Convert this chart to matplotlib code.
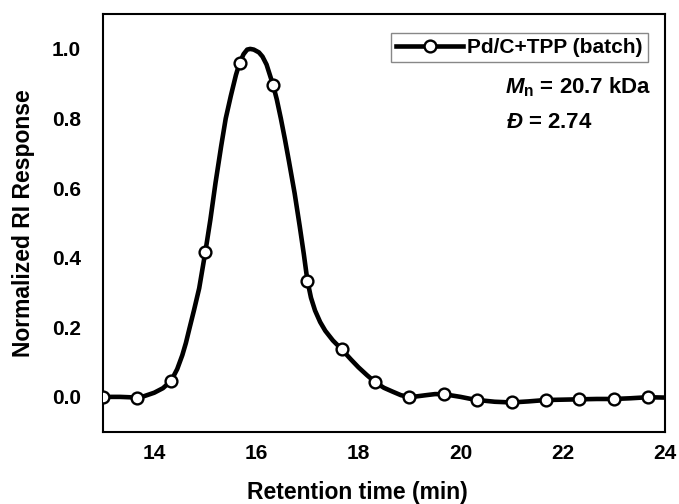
import matplotlib
matplotlib.use("Agg")
import matplotlib.pyplot as plt

# ===== 設定 =====
FIG_SIZE = (6.79, 5.04)
TICK_SIZE = 15
LABEL_SIZE = 16.5

plt.rcParams['font.family'] = ['Liberation Sans', 'DejaVu Sans']
plt.rcParams['font.weight'] = 'bold'
plt.rcParams['mathtext.fontset'] = 'custom'
plt.rcParams['mathtext.it'] = 'Liberation Sans:italic:bold'
plt.rcParams['mathtext.rm'] = 'Liberation Sans:bold'
plt.rcParams['mathtext.bf'] = 'Liberation Sans:bold'

# ===== データ (読み取り値) =====
# 測定点 (マーカー)
time_pts = [13.0, 13.67, 14.33, 15.0, 15.67, 16.33, 17.0, 17.67, 18.33,
            19.0, 19.67, 20.33, 21.0, 21.67, 22.33, 23.0, 23.67]
resp_pts = [0.0, -0.002, 0.046, 0.416, 0.959, 0.895, 0.334, 0.137, 0.042,
            -0.001, 0.008, -0.009, -0.016, -0.009, -0.007, -0.006, -0.001]

# 曲線 (トレース)
time_trace = [13.0, 13.33, 13.67, 13.8, 14.0, 14.17, 14.33, 14.45, 14.55, 14.62,
              14.69, 14.78, 14.88, 15.0, 15.1, 15.2, 15.31, 15.4, 15.5, 15.6,
              15.67, 15.75, 15.82, 15.88, 15.95, 16.05, 16.12, 16.2, 16.33, 16.4,
              16.48, 16.56, 16.64, 16.75, 16.85, 16.93, 17.0, 17.07, 17.15, 17.25,
              17.35, 17.5, 17.67, 17.85, 18.0, 18.17, 18.33, 18.5, 18.67, 18.83,
              19.0, 19.17, 19.33, 19.5, 19.67, 19.83, 20.0, 20.17, 20.33, 20.67,
              21.0, 21.33, 21.67, 22.0, 22.33, 22.67, 23.0, 23.33, 23.67, 24.0]
resp_trace = [0.0, 0.0, -0.002, 0.002, 0.012, 0.025, 0.046, 0.08, 0.12, 0.155,
              0.197, 0.25, 0.312, 0.416, 0.51, 0.615, 0.72, 0.80, 0.865, 0.925,
              0.959, 0.985, 0.998, 1.0, 0.998, 0.99, 0.978, 0.955, 0.895, 0.855,
              0.80, 0.74, 0.676, 0.585, 0.49, 0.41, 0.334, 0.285, 0.248, 0.215,
              0.19, 0.162, 0.137, 0.108, 0.085, 0.062, 0.042, 0.026, 0.015, 0.005,
              -0.001, 0.002, 0.005, 0.008, 0.008, 0.004, 0.0, -0.005, -0.009, -0.014,
              -0.016, -0.013, -0.009, -0.008, -0.007, -0.006, -0.006, -0.004, -0.001, -0.002]

fig = plt.figure(figsize=FIG_SIZE, dpi=100)
ax = fig.add_axes([0.152, 0.1435, 0.827, 0.8285])

ax.plot(time_trace, resp_trace, color='black', linewidth=3.3,
        solid_capstyle='round', solid_joinstyle='round', zorder=2)
ax.plot(time_pts, resp_pts, linestyle='none', marker='o', markersize=8.5,
        markerfacecolor='white', markeredgecolor='black', markeredgewidth=1.7,
        zorder=3)

# 凡例用ハンドル
handle, = ax.plot([], [], color='black', linewidth=3.3, marker='o', markersize=8.5,
                  markerfacecolor='white', markeredgecolor='black',
                  markeredgewidth=1.7, label='Pd/C+TPP (batch)')
leg = ax.legend(handles=[handle], loc='upper right', bbox_to_anchor=(0.97, 0.955),
                borderaxespad=0, fancybox=False, framealpha=1, numpoints=1,
                handlelength=3.2, handletextpad=0.2, borderpad=0.25,
                prop={'size': 15, 'weight': 'bold'})
leg.get_frame().set_edgecolor('#888888')
leg.get_frame().set_linewidth(1.0)

ax.text(0.715, 0.825, r'$M_{\mathrm{n}}$ = 20.7 kDa', transform=ax.transAxes,
        fontsize=16, fontweight='bold', va='center', ha='left')
ax.text(0.717, 0.741, r'$Đ$ = 2.74', transform=ax.transAxes,
        fontsize=16, fontweight='bold', va='center', ha='left')

ax.set_xlim(13, 24)
ax.set_ylim(-0.1, 1.1)
ax.set_xticks([14, 16, 18, 20, 22, 24])
ax.set_yticks([0.0, 0.2, 0.4, 0.6, 0.8, 1.0])
ax.set_yticklabels(['0.0', '0.2', '0.4', '0.6', '0.8', '1.0'])
ax.tick_params(axis='both', length=0, labelsize=TICK_SIZE)
ax.tick_params(axis='x', pad=9)
ax.tick_params(axis='y', pad=16)
for lab in ax.get_xticklabels() + ax.get_yticklabels():
    lab.set_fontweight('bold')
for sp in ax.spines.values():
    sp.set_linewidth(1.5)

ax.set_xlabel('Retention time (min)', fontsize=LABEL_SIZE, fontweight='bold')
ax.xaxis.set_label_coords(0.452, -0.117)
ax.set_ylabel('Normalized RI Response', fontsize=LABEL_SIZE, fontweight='bold', labelpad=12)

fig.savefig('out.png', dpi=100)
